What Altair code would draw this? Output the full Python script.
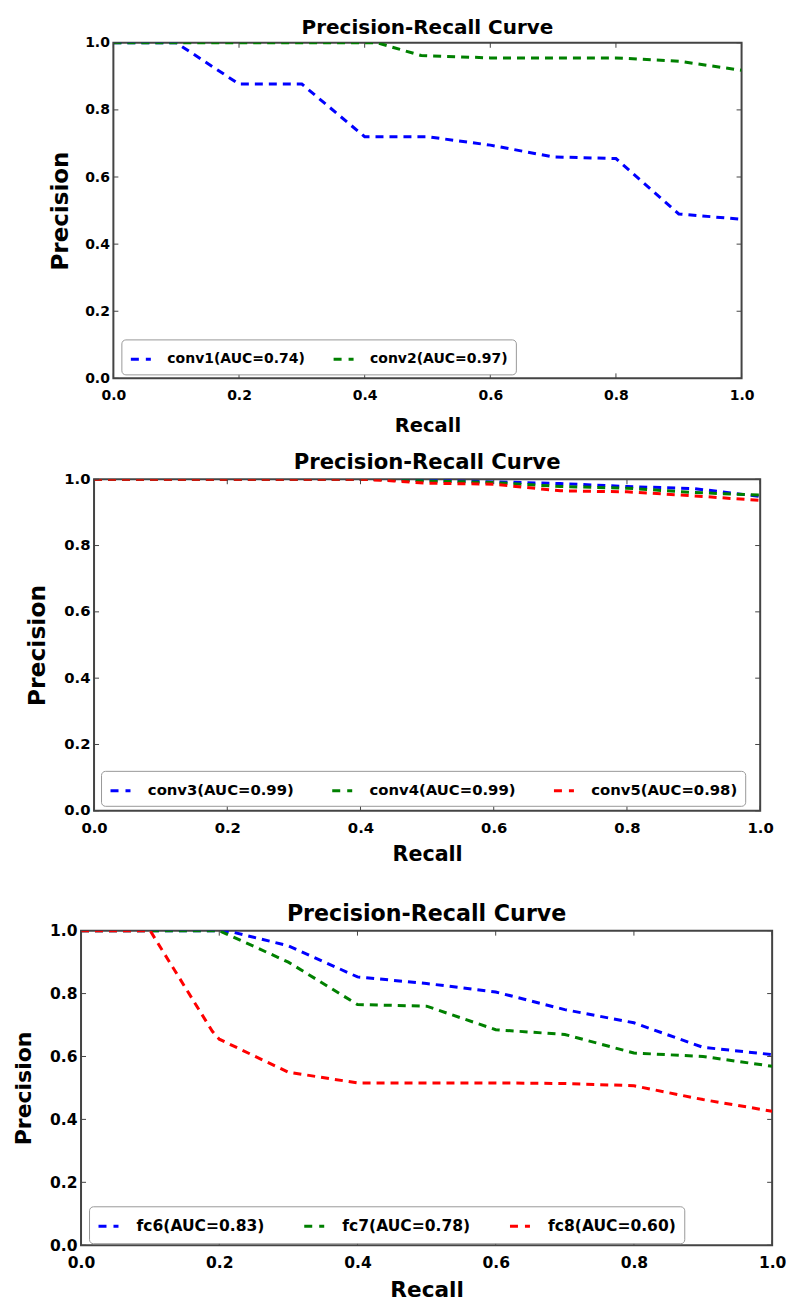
import altair as alt
import pandas as pd

FONT = "DejaVu Sans"
TICKS = [0.0, 0.2, 0.4, 0.6, 0.8, 1.0]
TITLE = "Precision-Recall Curve"

# Panel 1
P1_NAMES = ["conv1(AUC=0.74)", "conv2(AUC=0.97)"]
P1_COLORS = ["#0000ff", "#008000"]
CONV1_R = [0.0, 0.1, 0.2, 0.3, 0.4, 0.5, 0.6, 0.7, 0.8, 0.9, 1.0]
CONV1_P = [1.0, 1.0, 0.877, 0.877, 0.72, 0.72, 0.695, 0.66, 0.655, 0.49, 0.474]
CONV2_R = [0.0, 0.1, 0.2, 0.3, 0.4, 0.42, 0.49, 0.6, 0.7, 0.8, 0.9, 1.0]
CONV2_P = [1.0, 1.0, 1.0, 1.0, 1.0, 1.0, 0.962, 0.955, 0.955, 0.955, 0.945, 0.918]

# Panel 2
P2_NAMES = ["conv3(AUC=0.99)", "conv4(AUC=0.99)", "conv5(AUC=0.98)"]
P2_COLORS = ["#0000ff", "#008000", "#ff0000"]
CONV3_R = [0.0, 0.1, 0.2, 0.3, 0.4, 0.5, 0.6, 0.7, 0.8, 0.9, 1.0]
CONV3_P = [1.0, 1.0, 1.0, 1.0, 1.0, 0.997, 0.992, 0.987, 0.978, 0.972, 0.948]
CONV4_R = [0.0, 0.1, 0.2, 0.3, 0.4, 0.5, 0.6, 0.7, 0.8, 0.9, 1.0]
CONV4_P = [1.0, 1.0, 1.0, 1.0, 1.0, 0.995, 0.99, 0.978, 0.973, 0.96, 0.952]
CONV5_R = [0.0, 0.1, 0.2, 0.3, 0.4, 0.45, 0.5, 0.6, 0.7, 0.8, 0.9, 1.0]
CONV5_P = [1.0, 1.0, 1.0, 1.0, 1.0, 0.995, 0.988, 0.985, 0.965, 0.962, 0.95, 0.936]

# Panel 3
P3_NAMES = ["fc6(AUC=0.83)", "fc7(AUC=0.78)", "fc8(AUC=0.60)"]
P3_COLORS = ["#0000ff", "#008000", "#ff0000"]
FC6_R = [0.0, 0.1, 0.2, 0.22, 0.3, 0.4, 0.5, 0.6, 0.7, 0.8, 0.9, 1.0]
FC6_P = [1.0, 1.0, 1.0, 0.995, 0.952, 0.853, 0.832, 0.805, 0.749, 0.707, 0.629, 0.606]
FC7_R = [0.0, 0.1, 0.2, 0.21, 0.3, 0.4, 0.5, 0.6, 0.7, 0.8, 0.9, 1.0]
FC7_P = [1.0, 1.0, 1.0, 0.99, 0.9, 0.765, 0.76, 0.685, 0.67, 0.611, 0.6, 0.569]
FC8_R = [0.0, 0.1, 0.19, 0.2, 0.3, 0.4, 0.5, 0.6, 0.7, 0.8, 0.9, 1.0]
FC8_P = [1.0, 1.0, 0.68, 0.655, 0.55, 0.516, 0.516, 0.516, 0.514, 0.507, 0.463, 0.426]


def axis(title, s, title_size, title_pad, label_pad):
    return alt.Axis(
        title=title, values=TICKS, format=".1f", grid=False, domain=False,
        ticks=False, labelFont=FONT, labelFontWeight="bold",
        labelColor="black", labelFontSize=14 * s, labelPadding=label_pad,
        labelFlush=False, labelOverlap=False,
        titleFont=FONT, titleFontWeight="bold", titleColor="black",
        titleFontSize=title_size, titlePadding=title_pad)


def make_panel(names, colors, recalls, precisions, s, width, height,
               lx, ly, x_tp, y_tp, y_title_size, col_pad):
    rows = []
    for n, rr, pp in zip(names, recalls, precisions):
        for r, p in zip(rr, pp):
            rows.append({"series": n, "recall": r, "precision": p})
    df = pd.DataFrame(rows)
    xs = alt.Scale(domain=[0, 1], nice=False, zero=False)
    ys = alt.Scale(domain=[0, 1], nice=False, zero=False)
    xaxis = axis("Recall", s, 19.5 * s, x_tp, 10)
    yaxis = axis("Precision", s, y_title_size, y_tp, 4)

    lines = alt.Chart(df).mark_line(
        strokeDash=[8, 6], strokeWidth=3, clip=True
    ).encode(
        x=alt.X("recall:Q", scale=xs, axis=xaxis),
        y=alt.Y("precision:Q", scale=ys, axis=yaxis),
        color=alt.Color("series:N",
                        scale=alt.Scale(domain=names, range=colors),
                        sort=names,
                        legend=alt.Legend(
                            title=None, orient="none", legendX=lx, legendY=ly,
                            direction="horizontal", columns=len(names),
                            symbolType="stroke", symbolSize=400,
                            symbolStrokeWidth=3, symbolDash=[8, 7],
                            labelFont=FONT, labelFontWeight="bold",
                            labelFontSize=14 * s, labelColor="black",
                            strokeColor="#999999", cornerRadius=4,
                            padding=8, columnPadding=col_pad,
                            labelOffset=15 * s, fillColor="white")),
    )

    tcol = "#444444"
    xt = pd.DataFrame({"recall": TICKS})
    yt = pd.DataFrame({"precision": TICKS})
    bottom = alt.Chart(xt).mark_rule(color=tcol, strokeWidth=1).encode(
        x=alt.X("recall:Q", scale=xs, axis=xaxis),
        y=alt.value(height), y2=alt.value(height - 5))
    top = alt.Chart(xt).mark_rule(color=tcol, strokeWidth=1).encode(
        x=alt.X("recall:Q", scale=xs, axis=xaxis),
        y=alt.value(0), y2=alt.value(5))
    left = alt.Chart(yt).mark_rule(color=tcol, strokeWidth=1).encode(
        y=alt.Y("precision:Q", scale=ys, axis=yaxis),
        x=alt.value(0), x2=alt.value(5))
    right = alt.Chart(yt).mark_rule(color=tcol, strokeWidth=1).encode(
        y=alt.Y("precision:Q", scale=ys, axis=yaxis),
        x=alt.value(width), x2=alt.value(width - 5))

    return alt.layer(lines, bottom, top, left, right).properties(
        width=width, height=height,
        view=alt.ViewBackground(stroke="#444444", strokeWidth=2),
        title=alt.TitleParams(TITLE, fontSize=20 * s, font=FONT,
                              fontWeight="bold", color="black",
                              offset=-2, anchor="middle"),
    )


p1 = make_panel(P1_NAMES, P1_COLORS, [CONV1_R, CONV2_R], [CONV1_P, CONV2_P],
                1.0, 629, 336, 8, 297, 14.5, 12, 23, 22)
p2 = make_panel(P2_NAMES, P2_COLORS, [CONV3_R, CONV4_R, CONV5_R],
                [CONV3_P, CONV4_P, CONV5_P],
                1.06, 667, 332, 7, 292, 9, 14, 23.5, 32)
p3 = make_panel(P3_NAMES, P3_COLORS, [FC6_R, FC7_R, FC8_R],
                [FC6_P, FC7_P, FC8_P],
                1.11, 692, 315, 8, 276, 8.5, 14, 22, 33)

inner = alt.vconcat(p1, p2, spacing=14, center=True).resolve_scale(
    color="independent").resolve_legend(color="independent")
chart = alt.vconcat(inner, p3, spacing=36, center=True).resolve_scale(
    color="independent").resolve_legend(color="independent").properties(
    padding={"left": 3, "top": 8, "right": 0, "bottom": 0}
).configure_view(
    stroke="#444444", strokeWidth=2
).configure_axis(
    domain=False, ticks=False, grid=False
).configure(background="white")

chart.save("out.html", embed_options={"renderer": "svg", "actions": False})
